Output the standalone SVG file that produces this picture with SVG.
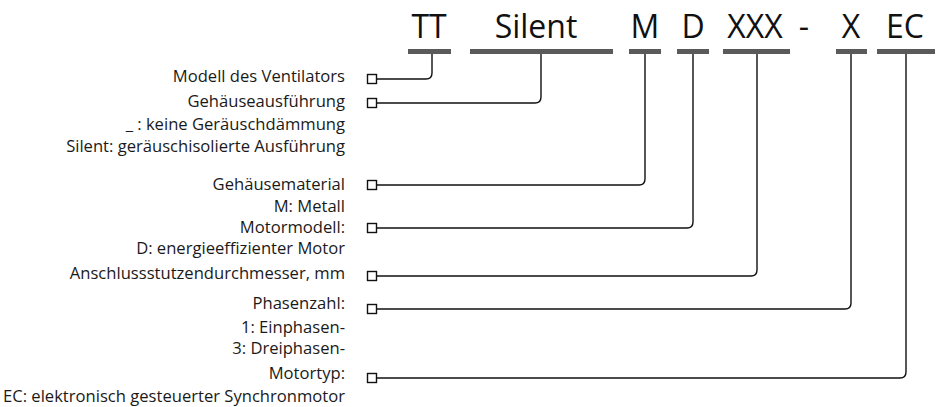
<svg xmlns="http://www.w3.org/2000/svg" width="939" height="407" viewBox="0 0 939 407">
<style>
.code{font-family:"Open Sans","Liberation Sans",sans-serif;font-size:32px;fill:#111;text-anchor:middle}
.lbl{font-family:"Open Sans","Liberation Sans",sans-serif;font-size:16.6px;fill:#1a1a1a;text-anchor:end}
.bar{fill:#5a5a5a}
.sq{fill:#fff;stroke:#111;stroke-width:1.4}
.con{fill:none;stroke:#111;stroke-width:1.4}
</style>
<rect width="939" height="407" fill="#fff"/>
<g id="code">
<text class="code" x="429" y="38">TT</text>
<text class="code" x="536" y="38">Silent</text>
<text class="code" x="645" y="38">M</text>
<text class="code" x="693" y="38">D</text>
<text class="code" x="755" y="38">XXX</text>
<text class="code" x="804" y="38">-</text>
<text class="code" x="851" y="38">X</text>
<text class="code" x="905" y="38">EC</text>
<rect class="bar" x="408" y="49" width="43" height="5"/>
<rect class="bar" x="470" y="49" width="143" height="5"/>
<rect class="bar" x="629" y="49" width="32" height="5"/>
<rect class="bar" x="677" y="49" width="32" height="5"/>
<rect class="bar" x="723" y="49" width="67" height="5"/>
<rect class="bar" x="836" y="49" width="31" height="5"/>
<rect class="bar" x="877" y="49" width="58" height="5"/>
</g>
<g id="connectors">
<path class="con" d="M376 79 H426 Q432 79 432 73 V54"/>
<path class="con" d="M376 103 H535 Q541 103 541 97 V54"/>
<path class="con" d="M376 185 H639 Q645 185 645 179 V54"/>
<path class="con" d="M376 228 H687 Q693 228 693 222 V54"/>
<path class="con" d="M376 276 H751 Q757 276 757 270 V54"/>
<path class="con" d="M376 309 H845 Q851 309 851 303 V54"/>
<path class="con" d="M376 378 H900 Q906 378 906 372 V54"/>
</g>
<g id="model">
<rect class="sq" x="367.5" y="74.5" width="9" height="9"/>
<text class="lbl" x="345" y="82">Modell des Ventilators</text>
</g>
<g id="housing">
<rect class="sq" x="367.5" y="98.5" width="9" height="9"/>
<text class="lbl" x="345" y="107">Gehäuseausführung</text>
<text class="lbl" x="345" y="130">_ : keine Geräuschdämmung</text>
<text class="lbl" x="345" y="152">Silent: geräuschisolierte Ausführung</text>
</g>
<g id="material">
<rect class="sq" x="367.5" y="180.5" width="9" height="9"/>
<text class="lbl" x="345" y="190">Gehäusematerial</text>
<text class="lbl" x="345" y="212">M: Metall</text>
</g>
<g id="motormodel">
<rect class="sq" x="367.5" y="223.5" width="9" height="9"/>
<text class="lbl" x="345" y="233">Motormodell:</text>
<text class="lbl" x="345" y="254">D: energieeffizienter Motor</text>
</g>
<g id="diameter">
<rect class="sq" x="367.5" y="271.5" width="9" height="9"/>
<text class="lbl" x="345" y="279">Anschlussstutzendurchmesser, mm</text>
</g>
<g id="phases">
<rect class="sq" x="367.5" y="304.5" width="9" height="9"/>
<text class="lbl" x="345" y="309">Phasenzahl:</text>
<text class="lbl" x="345" y="333">1: Einphasen-</text>
<text class="lbl" x="345" y="354">3: Dreiphasen-</text>
</g>
<g id="motortype">
<rect class="sq" x="367.5" y="373.5" width="9" height="9"/>
<text class="lbl" x="345" y="379">Motortyp:</text>
<text class="lbl" x="345" y="402">EC: elektronisch gesteuerter Synchronmotor</text>
</g>
</svg>
